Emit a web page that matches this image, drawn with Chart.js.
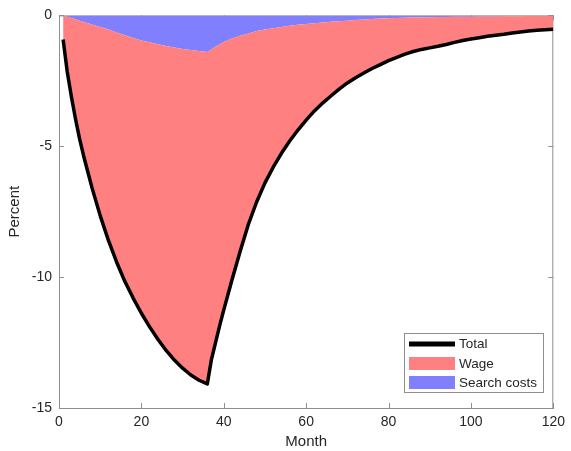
<!DOCTYPE html>
<html>
<head>
<meta charset="utf-8">
<script src="https://cdn.jsdelivr.net/npm/chart.js@4"></script>
<style>
  html, body { margin: 0; padding: 0; background: #ffffff; }
  #wrap { width: 571px; height: 451px; position: relative; }
</style>
</head>
<body>
<div id="wrap"><canvas id="c" width="571" height="451"></canvas></div>
<script>
// ---- data ----
const months = [1,2,3,4,5,6,8,10,12,14,16,18,20,22,24,26,28,30,32,34,36,37,38,39,40,42,44,46,48,50,52,54,56,58,60,62,64,66,68,70,72,74,76,78,80,82,84,86,88,90,92,94,96,98,100,102,104,106,108,110,112,114,116,118,120];
const total = [-0.92,-2.15,-3.1,-3.95,-4.72,-5.38,-6.58,-7.65,-8.6,-9.43,-10.17,-10.8,-11.38,-11.9,-12.37,-12.8,-13.17,-13.48,-13.74,-13.94,-14.08,-13.15,-12.5,-11.85,-11.25,-10.1,-9.0,-7.97,-7.12,-6.4,-5.8,-5.27,-4.8,-4.38,-4.0,-3.65,-3.35,-3.08,-2.82,-2.58,-2.38,-2.2,-2.03,-1.88,-1.73,-1.6,-1.48,-1.38,-1.3,-1.24,-1.18,-1.11,-1.03,-0.96,-0.9,-0.85,-0.8,-0.76,-0.72,-0.67,-0.63,-0.6,-0.57,-0.55,-0.53];
const wage = [-0.92,-2.1,-3.0,-3.8,-4.52,-5.13,-6.23,-7.21,-8.06,-8.78,-9.41,-9.94,-10.42,-10.87,-11.27,-11.63,-11.94,-12.2,-12.42,-12.58,-12.68,-11.85,-11.3,-10.74,-10.23,-9.22,-8.22,-7.28,-6.52,-5.86,-5.31,-4.83,-4.4,-4.02,-3.67,-3.35,-3.08,-2.84,-2.6,-2.38,-2.2,-2.04,-1.89,-1.76,-1.62,-1.5,-1.39,-1.295,-1.22,-1.17,-1.115,-1.05,-0.975,-0.91,-0.85,-0.805,-0.76,-0.72,-0.685,-0.64,-0.6,-0.575,-0.545,-0.53,-0.51];
const searchCosts = [0,-0.05,-0.1,-0.15,-0.2,-0.25,-0.35,-0.44,-0.54,-0.65,-0.76,-0.86,-0.96,-1.03,-1.1,-1.17,-1.23,-1.28,-1.32,-1.36,-1.4,-1.3,-1.2,-1.11,-1.02,-0.88,-0.78,-0.69,-0.6,-0.54,-0.49,-0.44,-0.4,-0.36,-0.33,-0.3,-0.27,-0.24,-0.22,-0.2,-0.18,-0.16,-0.14,-0.12,-0.11,-0.1,-0.09,-0.085,-0.08,-0.07,-0.065,-0.06,-0.055,-0.05,-0.05,-0.045,-0.04,-0.04,-0.035,-0.03,-0.03,-0.025,-0.025,-0.02,-0.02];
const xTickValues = [0,20,40,60,80,100,120];
const yTickValues = [0,-5,-10,-15];
const seriesLabels = ['Total','Wage','Search costs'];
const xTitle = 'Month';
const yTitle = 'Percent';

// ---- styling ----
const FONT = '"Liberation Sans", Arial, Helvetica, sans-serif';
const TEXT = '#262626';
const AXIS = '#8f8f8f';
const RED = '#ff8080';
const BLUE = '#8080ff';

const totalPts = months.map((m, i) => ({x: m, y: total[i]}));
const searchPts = months.map((m, i) => ({x: m, y: searchCosts[i]}));
const wageTopPts = months.map((m, i) => ({x: m, y: searchCosts[i] + wage[i]}));

// Axis box (right/top), inner tick marks: drawn under the data like MATLAB
const boxPlugin = {
  id: 'box',
  beforeDatasetsDraw(chart) {
    const {ctx, chartArea: a, scales: {x, y}} = chart;
    ctx.save();
    ctx.strokeStyle = AXIS;
    ctx.lineWidth = 1;
    ctx.beginPath();
    ctx.moveTo(a.left, a.top + 0.5); ctx.lineTo(a.right, a.top + 0.5);
    ctx.moveTo(a.right - 0.5, a.top); ctx.lineTo(a.right - 0.5, a.bottom);
    const tl = 5;
    xTickValues.forEach(v => {
      const px = Math.round(x.getPixelForValue(v)) + 0.5;
      ctx.moveTo(px, a.bottom); ctx.lineTo(px, a.bottom - tl);
      ctx.moveTo(px, a.top); ctx.lineTo(px, a.top + tl);
    });
    yTickValues.forEach(v => {
      const py = Math.round(y.getPixelForValue(v)) + 0.5;
      ctx.moveTo(a.left, py); ctx.lineTo(a.left + tl, py);
      ctx.moveTo(a.right, py); ctx.lineTo(a.right - tl, py);
    });
    ctx.stroke();
    ctx.restore();
  }
};

// MATLAB-style legend inside the lower right of the axes
const legendPlugin = {
  id: 'matLegend',
  afterDraw(chart) {
    const {ctx} = chart;
    const bx = 404, by = 333, bw = 140, bh = 60;
    ctx.save();
    ctx.fillStyle = '#ffffff';
    ctx.fillRect(bx, by, bw, bh);
    ctx.strokeStyle = AXIS;
    ctx.lineWidth = 1;
    ctx.strokeRect(bx + 0.5, by + 0.5, bw - 1, bh - 1);
    ctx.font = '13.5px ' + FONT;
    ctx.textBaseline = 'middle';
    ctx.textAlign = 'left';
    const rowY = [344, 363.5, 382.5];
    chart.data.datasets.forEach((ds, i) => {
      const cy = rowY[i];
      if (i === 0) {
        ctx.fillStyle = ds.borderColor;
        ctx.fillRect(409, cy - 2.5, 46, 5);
      } else {
        ctx.fillStyle = ds.backgroundColor;
        ctx.fillRect(409, cy - 6.5, 46, 13);
      }
      ctx.fillStyle = TEXT;
      ctx.fillText(ds.label, 459, cy + 0.5);
    });
    ctx.restore();
  }
};

new Chart(document.getElementById('c'), {
  type: 'line',
  data: {
    datasets: [
      {
        label: seriesLabels[0], data: totalPts,
        borderColor: '#000000', borderWidth: 3.5, fill: false,
        pointRadius: 0, tension: 0, borderJoinStyle: 'round', borderCapStyle: 'butt'
      },
      {
        label: seriesLabels[1], data: wageTopPts,
        borderColor: 'rgba(0,0,0,0)', borderWidth: 0, backgroundColor: RED,
        fill: '+1', pointRadius: 0, tension: 0
      },
      {
        label: seriesLabels[2], data: searchPts,
        borderColor: 'rgba(0,0,0,0)', borderWidth: 0, backgroundColor: BLUE,
        fill: 'origin', pointRadius: 0, tension: 0
      }
    ]
  },
  options: {
    responsive: false,
    animation: false,
    devicePixelRatio: 1,
    layout: { padding: { left: 0, right: 15, top: 13, bottom: 0 } },
    plugins: {
      legend: { display: false },
      tooltip: { enabled: false },
      filler: { propagate: false }
    },
    scales: {
      x: {
        type: 'linear', min: 0, max: 120,
        afterBuildTicks: s => { s.ticks = xTickValues.map(v => ({value: v})); },
        afterFit: s => { s.height = 43; },
        grid: { display: true, drawOnChartArea: false, drawTicks: false },
        border: { display: true, color: AXIS, width: 1 },
        ticks: { color: TEXT, font: { family: FONT, size: 14 }, padding: 6, maxRotation: 0 },
        title: { display: true, text: xTitle, color: TEXT, font: { family: FONT, size: 15 }, padding: { top: 0, bottom: 0 } }
      },
      y: {
        type: 'linear', min: -15, max: 0,
        afterBuildTicks: s => { s.ticks = yTickValues.map(v => ({value: v})); },
        afterFit: s => { s.width = 59; },
        grid: { display: true, drawOnChartArea: false, drawTicks: false },
        border: { display: true, color: AXIS, width: 1 },
        ticks: { color: TEXT, font: { family: FONT, size: 14 }, padding: 7 },
        title: { display: true, text: yTitle, color: TEXT, font: { family: FONT, size: 15 }, padding: { top: 6, bottom: 0 } }
      }
    }
  },
  plugins: [boxPlugin, legendPlugin]
});
</script>
</body>
</html>
